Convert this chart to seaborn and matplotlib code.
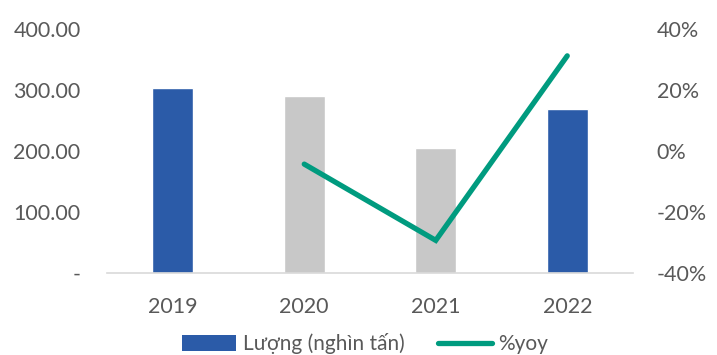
import matplotlib
matplotlib.use("Agg")
import matplotlib.pyplot as plt
from matplotlib.patches import Patch
from matplotlib.lines import Line2D
from matplotlib.ticker import FuncFormatter
import seaborn as sns
import pandas as pd

years = ["2019", "2020", "2021", "2022"]
volume = [303.0, 290.0, 205.0, 269.0]   # nghìn tấn
yoy = [None, -4.3, -29.3, 31.2]          # %
bar_colors = ["#2B5BA8", "#C8C8C8", "#C8C8C8", "#2B5BA8"]
line_color = "#009B7F"
text_color = "#595959"

sns.set_theme(style="white")
plt.rcParams["font.family"] = ["Lato", "DejaVu Sans"]

df = pd.DataFrame({"year": years, "volume": volume, "yoy": yoy})

fig = plt.figure(figsize=(7.17, 3.55), dpi=100)
ax = fig.add_axes([107 / 717, 1 - 273 / 355, 526 / 717, 244 / 355])

sns.barplot(data=df, x="year", y="volume", hue="year", palette=bar_colors,
            width=0.31, legend=False, ax=ax, saturation=1)
ax.set_ylim(0, 400)
ax.set_yticks([0, 100, 200, 300, 400])
ax.yaxis.set_major_formatter(FuncFormatter(lambda v, p: "-" if v == 0 else f"{v:.2f}"))
ax.set_xlabel("")
ax.set_ylabel("")
for s in ["top", "right", "left"]:
    ax.spines[s].set_visible(False)
ax.spines["bottom"].set_color("#D9D9D9")
ax.spines["bottom"].set_linewidth(1.2)
ax.tick_params(axis="both", length=0, labelsize=15.5, colors=text_color)
ax.tick_params(axis="y", pad=19)
ax.tick_params(axis="x", pad=17)

ax2 = ax.twinx()
line_df = df.dropna()
sns.lineplot(x=[years.index(y) for y in line_df["year"]], y=line_df["yoy"],
             color=line_color, linewidth=3.8, ax=ax2, solid_capstyle="round",
             solid_joinstyle="miter")
ax2.set_ylim(-40, 40)
ax2.set_yticks([-40, -20, 0, 20, 40])
ax2.yaxis.set_major_formatter(FuncFormatter(lambda v, p: f"{v:.0f}%"))
ax2.set_ylabel("")
for s in ["top", "right", "left", "bottom"]:
    ax2.spines[s].set_visible(False)
ax2.tick_params(axis="y", length=0, labelsize=15.5, colors=text_color, pad=17)
ax.set_xlim(-0.5, 3.5)

handles = [Patch(facecolor="#2B5BA8", edgecolor="none"),
           Line2D([0], [0], color=line_color, linewidth=3.8, solid_capstyle="round")]
leg = fig.legend(handles, ["Lượng (nghìn tấn)", "%yoy"], loc="center",
                 bbox_to_anchor=(365 / 717, 1 - 344 / 355), ncol=2, frameon=False,
                 fontsize=15, handlelength=2.6, handleheight=0.8,
                 columnspacing=1.6, handletextpad=0.3, labelcolor=text_color,
                 borderpad=0.1)

fig.savefig("out.png", dpi=100)
